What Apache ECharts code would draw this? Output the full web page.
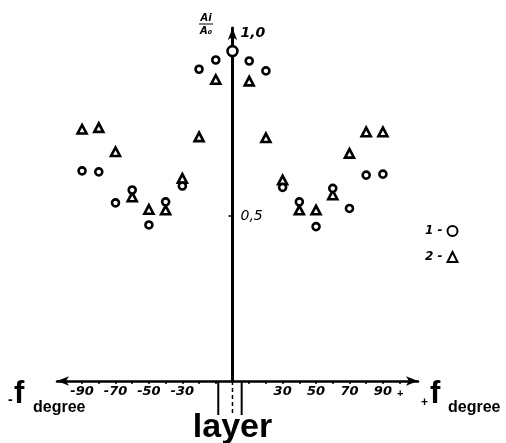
<!DOCTYPE html>
<html><head><meta charset="utf-8">
<script src="https://cdn.jsdelivr.net/npm/echarts@6/dist/echarts.min.js"></script>
<style>html,body{margin:0;padding:0;background:#fff}#c{width:506px;height:443px}</style>
</head><body><div id="c"></div>
<script>
// Data
const angles1 = [-90,-80,-70,-60,-50,-40,-30,-20,-10,0,10,20,30,40,50,60,70,80,90];
const series1 = [0.637,0.634,0.540,0.579,0.473,0.543,0.591,0.945,0.973,1.0,0.970,0.940,0.587,0.543,0.468,0.584,0.523,0.624,0.627];
const angles2 = [-90,-80,-70,-60,-50,-40,-30,-20,-10,10,20,30,40,50,60,70,80,90];
const series2 = [0.763,0.768,0.695,0.558,0.520,0.518,0.614,0.740,0.914,0.909,0.737,0.609,0.518,0.518,0.564,0.690,0.755,0.755];
const xTickLabels = [-90,-70,-50,-30,30,50,70,90];
const xMinorTicks = [-100,-90,-80,-70,-60,-50,-40,-30,-20,-10,10,20,30,40,50,60,70,80,90,100];
const yTickLabels = [0.5, 1.0];
const layerBounds = [-8.5, 5.5];
const seriesNames = ['1', '2'];

const chart = echarts.init(document.getElementById('c'), null, {renderer: 'canvas'});
const ink = '#000';
const labelFont = {color: ink, fontStyle: 'italic', fontWeight: 'bold', fontFamily: 'DejaVu Sans', fontSize: 13};
const gridLeft = 57;

function buildOption(yOffset) {
  return {
    backgroundColor: '#fff',
    animation: false,
    grid: {left: gridLeft, right: 88, top: 28, bottom: 62, containLabel: false, outerBoundsMode: 'none'},
    legend: {
      orient: 'vertical', left: 420, top: 220, itemGap: 14, itemWidth: 10, itemHeight: 10,
      align: 'right', selectedMode: false,
      formatter: n => n + ' -',
      textStyle: Object.assign({}, labelFont, {fontSize: 12}),
      data: seriesNames
    },
    xAxis: {
      type: 'value', min: -105, max: 111,
      axisLine: {onZero: true, symbol: ['arrow', 'arrow'], symbolSize: [7, 12], lineStyle: {color: ink, width: 2.5}},
      axisTick: {show: true, customValues: xMinorTicks, length: 3, lineStyle: {color: ink, width: 1.5}},
      axisLabel: Object.assign({customValues: xTickLabels, margin: 4}, labelFont),
      splitLine: {show: false}
    },
    yAxis: {
      type: 'value', min: 0, max: 1.07, offset: yOffset,
      axisLine: {onZero: false, symbol: ['none', 'arrow'], symbolSize: [7, 12], lineStyle: {color: ink, width: 3}},
      axisTick: {show: true, customValues: [0.5], length: 4, lineStyle: {color: ink, width: 1.5}},
      axisLabel: {
        inside: true, customValues: yTickLabels, margin: 8,
        formatter: v => v >= 1 ? '{top|1,0}' : '{n|0,5}',
        rich: {
          top: Object.assign({}, labelFont, {fontSize: 14, padding: [0, 0, 36, 0]}),
          n: Object.assign({}, labelFont, {fontSize: 14, fontWeight: 'normal'})
        }
      },
      splitLine: {show: false}
    },
    series: [
      {
        name: seriesNames[0], type: 'scatter', symbol: 'circle',
        symbolSize: v => v[0] === 0 ? 10 : 7,
        itemStyle: {color: '#fff', borderColor: ink, borderWidth: 2.6, opacity: 1},
        data: angles1.map((a, i) => [a, series1[i]]), z: 3
      },
      {
        name: seriesNames[1], type: 'scatter', symbol: 'triangle',
        symbolSize: [9, 8.5],
        itemStyle: {color: '#fff', borderColor: ink, borderWidth: 2.6, opacity: 1},
        data: angles2.map((a, i) => [a, series2[i]]), z: 2
      }
    ]
  };
}

chart.setOption(buildOption(0));
// put the vertical axis (with its labels) at x = 0, using the chart's own x scale
const pC = chart.convertToPixel({gridIndex: 0}, [0, 0]);
chart.setOption(buildOption(-(pC[0] - gridLeft)));

const pL = chart.convertToPixel({gridIndex: 0}, [layerBounds[0], 0]);
const pR = chart.convertToPixel({gridIndex: 0}, [layerBounds[1], 0]);
const drop = 34;
chart.setOption({
  graphic: [
    {type: 'line', shape: {x1: pL[0], y1: pL[1], x2: pL[0], y2: pL[1] + drop}, style: {stroke: ink, lineWidth: 2}},
    {type: 'line', shape: {x1: pR[0], y1: pR[1], x2: pR[0], y2: pR[1] + drop}, style: {stroke: ink, lineWidth: 2}},
    {type: 'line', shape: {x1: pC[0], y1: pC[1], x2: pC[0], y2: pC[1] + drop}, style: {stroke: ink, lineWidth: 1.5, lineDash: [4, 3]}},
    {type: 'text', x: pC[0], y: 445, style: {text: 'layer', fill: ink, font: 'bold 34px "Liberation Sans"', textAlign: 'center', textVerticalAlign: 'bottom'}},
    {type: 'text', x: 8, y: 407, style: {text: '-', fill: ink, font: 'bold 14px "Liberation Sans"', textAlign: 'left', textVerticalAlign: 'bottom'}},
    {type: 'text', x: 14, y: 410, style: {text: 'f', fill: ink, font: 'bold 31px "Liberation Sans"', textAlign: 'left', textVerticalAlign: 'bottom'}},
    {type: 'text', x: 33, y: 416, style: {text: 'degree', fill: ink, font: 'bold 16px "Liberation Sans"', textAlign: 'left', textVerticalAlign: 'bottom'}},
    {type: 'text', x: 421, y: 409, style: {text: '+', fill: ink, font: 'bold 12px "Liberation Sans"', textAlign: 'left', textVerticalAlign: 'bottom'}},
    {type: 'text', x: 430, y: 410, style: {text: 'f', fill: ink, font: 'bold 31px "Liberation Sans"', textAlign: 'left', textVerticalAlign: 'bottom'}},
    {type: 'text', x: 448, y: 416, style: {text: 'degree', fill: ink, font: 'bold 16px "Liberation Sans"', textAlign: 'left', textVerticalAlign: 'bottom'}},
    {type: 'text', x: 397, y: 394, style: {text: '+', fill: ink, font: 'bold 11px "Liberation Sans"', textAlign: 'left', textVerticalAlign: 'middle'}},
    {type: 'text', x: 206, y: 18, style: {text: 'Ai', fill: ink, font: 'italic bold 10px "DejaVu Sans"', textAlign: 'center', textVerticalAlign: 'middle'}},
    {type: 'line', shape: {x1: 199, y1: 24, x2: 213, y2: 24}, style: {stroke: ink, lineWidth: 1}},
    {type: 'text', x: 206, y: 31, style: {text: 'A₀', fill: ink, font: 'italic bold 10px "DejaVu Sans"', textAlign: 'center', textVerticalAlign: 'middle'}}
  ]
});
</script>
</body></html>
